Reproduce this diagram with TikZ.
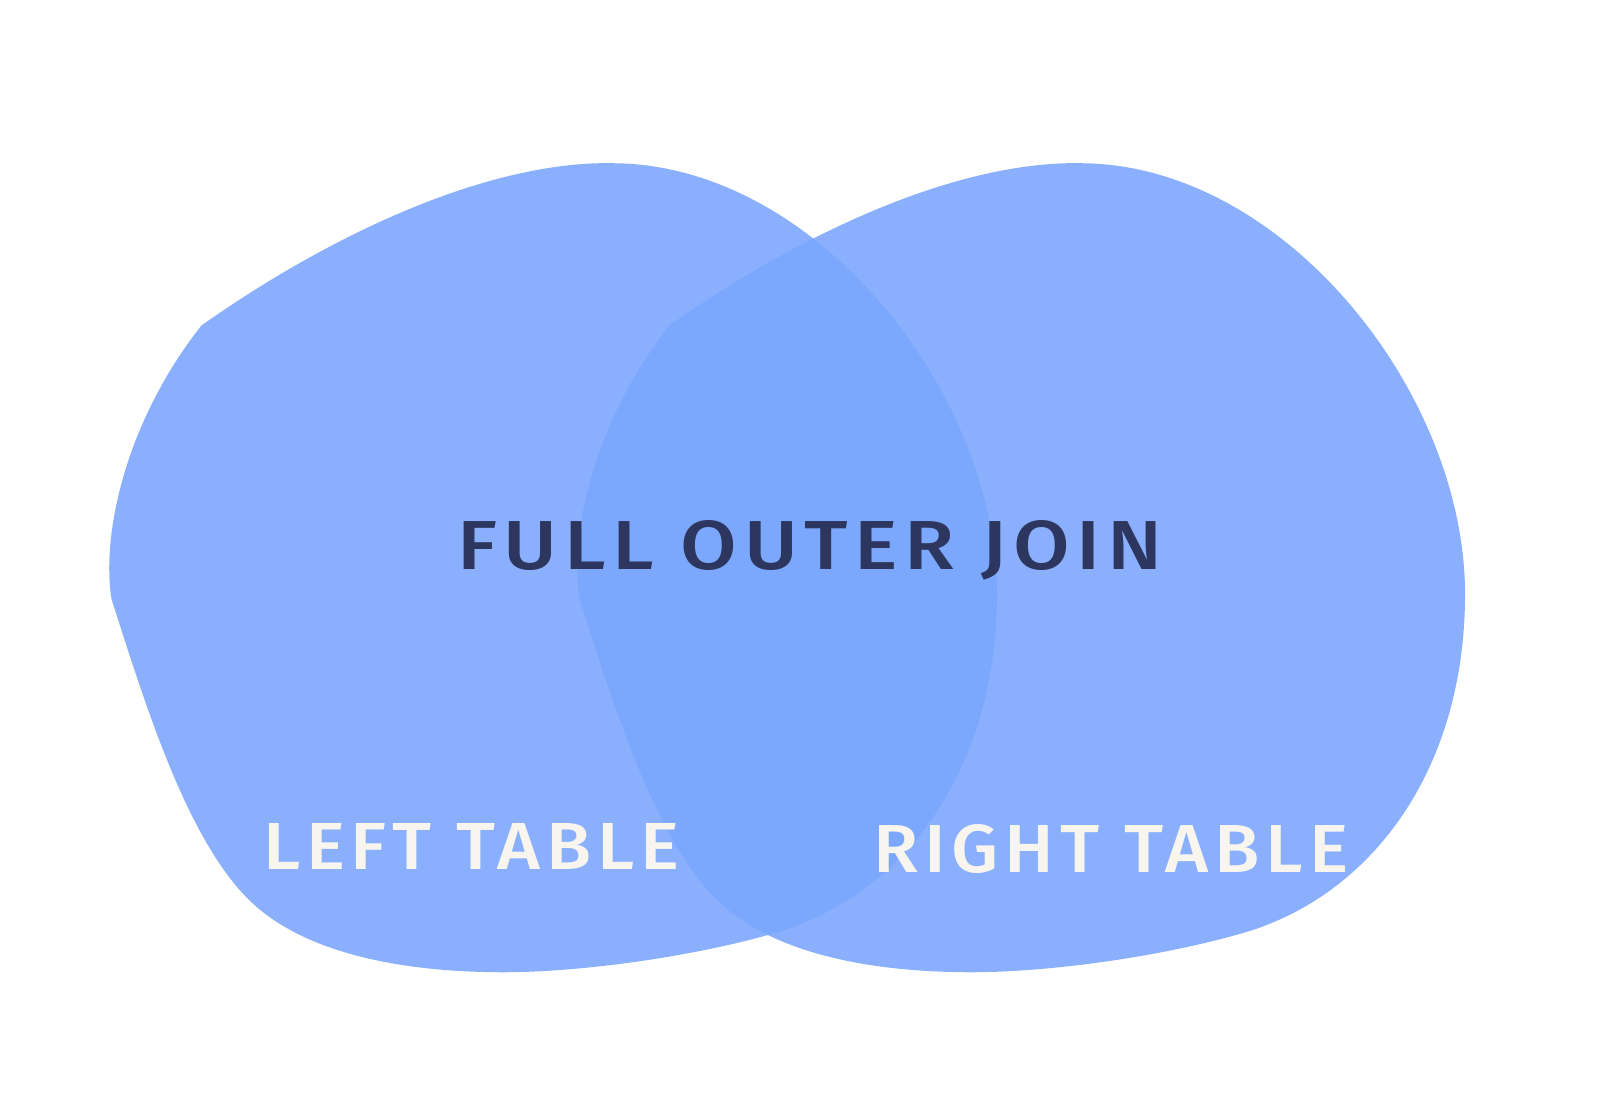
\documentclass[tikz,border=0pt]{standalone}
\usepackage{fontspec}
\setmainfont{Fira Sans}
\newfontfamily\hand[LetterSpace=8, BoldFont={* Medium}]{Fira Sans}
\usepackage{graphicx}
\definecolor{blobfill}{HTML}{8AB0FD}
\definecolor{overlapfill}{HTML}{7BA8FD}
\definecolor{darktext}{HTML}{2C365E}
\definecolor{lighttext}{HTML}{F8F5EE}
\tikzset{
  blob/.style={fill=blobfill, draw=none},
  overlap/.style={fill=overlapfill, draw=none},
  title/.style={inner sep=0pt, anchor=base, text=darktext, font=\hand\bfseries},
  label/.style={inner sep=0pt, anchor=base, text=lighttext, font=\hand\bfseries},
}
\newcommand{\blobpath}{(195,315)
  .. controls (330,220) and (480,155) .. (595,158)
  .. controls (790,160) and (965,380) .. (965,575)
  .. controls (965,740) and (880,860) .. (760,900)
  .. controls (680,925) and (560,942) .. (480,941)
  .. controls (380,940) and (290,920) .. (240,870)
  .. controls (180,810) and (140,680) .. (108,580)
  .. controls (98,520) and (120,410) .. (195,315) -- cycle}
\begin{document}
\begin{tikzpicture}[x=1.0332pt, y=-1.0332pt]
  \useasboundingbox (0,0) rectangle (1568,1057);
  \fill[white] (0,0) rectangle (1568,1057);
  % left table blob
  \path[blob] \blobpath;
  % right table blob
  \begin{scope}[shift={(453,0)}]
    \path[blob] \blobpath;
  \end{scope}
  % overlap
  \begin{scope}
    \clip \blobpath;
    \begin{scope}[shift={(453,0)}]
      \path[overlap] \blobpath;
    \end{scope}
  \end{scope}
  % texts
  \node[title] (full) at (784,551) {\resizebox{705pt}{49pt}{FULL OUTER JOIN}};
  \node[label] (left) at (456,842) {\resizebox{416pt}{46pt}{LEFT TABLE}};
  \node[label] (right) at (1075,844) {\resizebox{475pt}{48pt}{RIGHT TABLE}};
\end{tikzpicture}
\end{document}
